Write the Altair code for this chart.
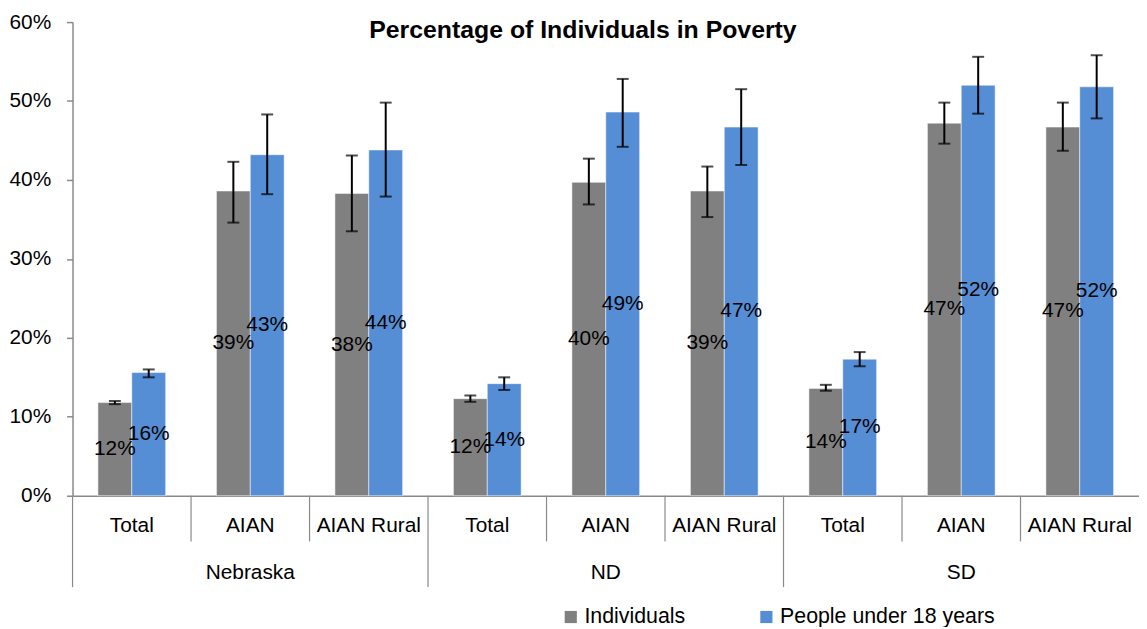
import altair as alt
import pandas as pd

groups = ["Nebraska", "ND", "SD"]
subs = ["Total", "AIAN", "AIAN Rural"]
series = ["Individuals", "People under 18 years"]

individuals = [0.118, 0.386, 0.383, 0.123, 0.397, 0.386, 0.136, 0.472, 0.467]
ind_lo = [0.116, 0.346, 0.335, 0.119, 0.369, 0.353, 0.133, 0.446, 0.437]
ind_hi = [0.120, 0.423, 0.431, 0.127, 0.427, 0.417, 0.1405, 0.498, 0.498]

under18 = [0.156, 0.432, 0.438, 0.142, 0.486, 0.467, 0.173, 0.520, 0.518]
u18_lo = [0.150, 0.382, 0.379, 0.134, 0.442, 0.419, 0.164, 0.484, 0.478]
u18_hi = [0.160, 0.483, 0.498, 0.150, 0.528, 0.515, 0.182, 0.556, 0.558]

title_text = "Percentage of Individuals in Poverty"

FONT = "Liberation Sans"
W, H = 1074, 477
GRAY_AXIS = "#898989"

slots = [f"{g}|{s}" for g in groups for s in subs]

rows = []
for i, slot in enumerate(slots):
    g, s = slot.split("|")
    rows.append(dict(slot=slot, group=g, sub=s, series=series[0],
                     value=individuals[i], lo=ind_lo[i], hi=ind_hi[i]))
    rows.append(dict(slot=slot, group=g, sub=s, series=series[1],
                     value=under18[i], lo=u18_lo[i], hi=u18_hi[i]))
df = pd.DataFrame(rows)

slot_df = pd.DataFrame([dict(slot=s, group=s.split("|")[0], sub=s.split("|")[1]) for s in slots])
group_df = pd.DataFrame([dict(slot=f"{g}|{subs[1]}", group=g) for g in groups])
title_df = pd.DataFrame([dict(t=title_text)])

xenc = alt.X("slot:N", sort=slots,
             scale=alt.Scale(domain=slots, paddingInner=0, paddingOuter=0),
             axis=alt.Axis(labels=False, ticks=False, title=None, domain=True,
                           domainColor=GRAY_AXIS, domainWidth=1.5))
xoff = alt.XOffset("series:N",
                   scale=alt.Scale(domain=series, paddingInner=0, paddingOuter=0.75))
yscale = alt.Scale(domain=[0, 0.6], nice=False)
yaxis = alt.Axis(values=[0, 0.1, 0.2, 0.3, 0.4, 0.5, 0.6], format=".0%", grid=False,
                 title=None, labelFontSize=21, labelFont=FONT, labelColor="black",
                 domainColor=GRAY_AXIS, domainWidth=1.5, tickColor=GRAY_AXIS,
                 tickWidth=1.5, tickSize=6, labelPadding=16)

base = alt.Chart(df)

bars = base.mark_bar(stroke="white", strokeWidth=0.5).encode(
    x=xenc, xOffset=xoff,
    y=alt.Y("value:Q", scale=yscale, axis=yaxis),
    color=alt.Color("series:N", scale=alt.Scale(domain=series, range=["#808080", "#558ED5"]),
                    legend=alt.Legend(title=None, orient="none", direction="horizontal",
                                      legendX=491, legendY=588, symbolType="square",
                                      symbolSize=150, symbolStrokeWidth=0,
                                      labelFontSize=21.5, labelFont=FONT, labelColor="black",
                                      labelOffset=3, columnPadding=70, padding=0,
                                      labelLimit=400)),
)

labels = base.transform_calculate(mid="datum.value / 2").mark_text(
    fontSize=21, font=FONT, color="black", baseline="middle", align="center"
).encode(
    x=xenc, xOffset=xoff,
    y=alt.Y("mid:Q", scale=yscale),
    text=alt.Text("value:Q", format=".0%"),
)

err = base.mark_rule(color="black", strokeWidth=2).encode(
    x=xenc, xOffset=xoff,
    y=alt.Y("lo:Q", scale=yscale), y2="hi:Q",
)
cap_lo = base.mark_tick(color="black", thickness=2, size=12).encode(
    x=xenc, xOffset=xoff, y=alt.Y("lo:Q", scale=yscale))
cap_hi = base.mark_tick(color="black", thickness=2, size=12).encode(
    x=xenc, xOffset=xoff, y=alt.Y("hi:Q", scale=yscale))

slot_scale = alt.Scale(domain=slots, paddingInner=0, paddingOuter=0)
slot_base = alt.Chart(slot_df)
short_sep = slot_base.transform_filter(f"datum.sub != '{subs[0]}'").mark_rule(
    color=GRAY_AXIS, strokeWidth=1.2
).encode(
    x=alt.X("slot:N", sort=slots, bandPosition=0, scale=slot_scale),
    y=alt.value(H), y2=alt.value(H + 46),
)
long_sep = slot_base.transform_filter(f"datum.sub == '{subs[0]}'").mark_rule(
    color=GRAY_AXIS, strokeWidth=1.2
).encode(
    x=alt.X("slot:N", sort=slots, bandPosition=0, scale=slot_scale),
    y=alt.value(H), y2=alt.value(H + 92),
)
cat_labels = slot_base.mark_text(fontSize=21, font=FONT, color="black",
                                 baseline="middle", align="center").encode(
    x=alt.X("slot:N", sort=slots, scale=slot_scale),
    y=alt.value(H + 31),
    text="sub:N",
)
grp_labels = alt.Chart(group_df).mark_text(fontSize=21, font=FONT, color="black",
                                           baseline="middle", align="center").encode(
    x=alt.X("slot:N", sort=slots, scale=slot_scale),
    y=alt.value(H + 78),
    text="group:N",
)
title = alt.Chart(title_df).mark_text(fontSize=25, font=FONT, fontWeight="bold",
                                      color="black", baseline="middle", align="center").encode(
    x=alt.value(514), y=alt.value(8), text="t:N")

chart = alt.layer(
    bars, err, cap_lo, cap_hi, labels, short_sep, long_sep, cat_labels, grp_labels, title
).properties(
    width=W, height=H,
    autosize=alt.AutoSizeParams(type="none"),
    padding={"left": 65, "top": 12, "right": 0, "bottom": 130},
).configure_view(stroke=None)

chart.save("out.html", embed_options={"renderer": "svg", "actions": False})
